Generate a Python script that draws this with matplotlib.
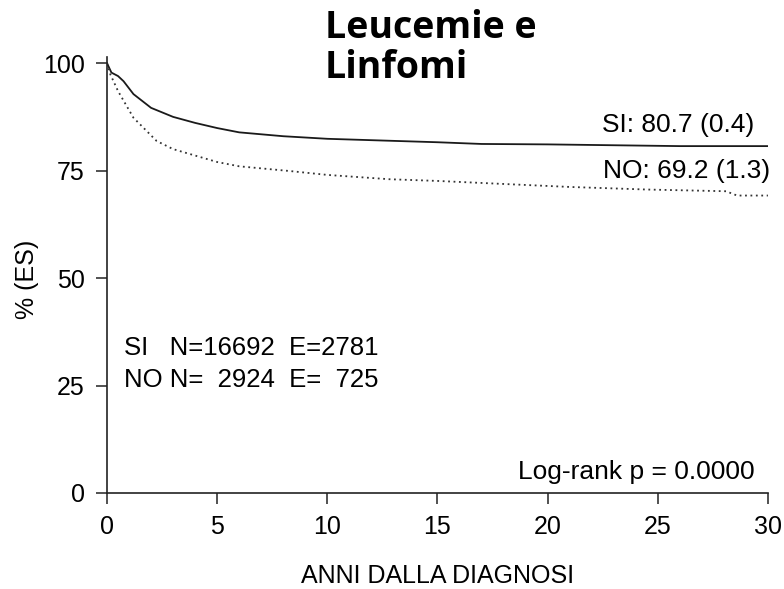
import matplotlib.pyplot as plt

# survival curves
t_si = [0, 0.2, 0.5, 0.75, 1.2, 2, 3, 4, 5, 6, 8, 10, 12.5, 15, 17, 20, 23, 26, 30]
si = [100, 97.8, 97.0, 95.8, 92.8, 89.6, 87.5, 86.1, 84.9, 83.9, 83.0, 82.4, 82.0, 81.6, 81.2, 81.1, 80.9, 80.7, 80.7]

t_no = [0, 0.15, 0.5, 1.2, 2.25, 3, 3.8, 5, 6, 8.3, 10, 12.8, 15, 18.4, 21, 24.5, 28.1, 28.6, 30]
no = [100, 97.4, 93.5, 87.3, 81.9, 80.0, 78.8, 77.0, 76.0, 74.9, 74.0, 73.0, 72.6, 71.8, 71.2, 70.6, 70.2, 69.2, 69.2]

x_ticks = [0, 5, 10, 15, 20, 25, 30]
y_ticks = [0, 25, 50, 75, 100]

plt.rcParams['font.family'] = ['Liberation Sans', 'DejaVu Sans']

fig = plt.figure(figsize=(7.84, 5.89), dpi=100)
ax = fig.add_axes([0.1365, 0.163, 0.843, 0.740])

ax.plot(t_si, si, color='#1a1a1a', lw=1.3)
ax.plot(t_no, no, color='#333333', lw=1.3, linestyle=(0, (1, 2)))

ax.set_xlim(0, 30)
ax.set_ylim(0, 101.4)
ax.set_xticks(x_ticks)
ax.set_yticks(y_ticks)
ax.tick_params(labelsize=18, length=8, width=1.2, color='#333333', pad=8)

for s in ['top', 'right']:
    ax.spines[s].set_visible(False)
for s in ['left', 'bottom']:
    ax.spines[s].set_linewidth(1.2)
    ax.spines[s].set_color('#222222')

ax.set_xlabel('ANNI DALLA DIAGNOSI', fontsize=18)
ax.xaxis.set_label_coords(0.5, -0.163)
ax.set_ylabel('% (ES)', fontsize=18)
ax.yaxis.set_label_coords(-0.103, 0.49)

ax.text(29.4, 85.5, 'SI: 80.7 (0.4)', fontsize=19, ha='right', va='center')
ax.text(30.1, 74.8, 'NO: 69.2 (1.3)', fontsize=19, ha='right', va='center')
ax.text(0.75, 33.7, 'SI   N=16692  E=2781', fontsize=18.5, ha='left', va='center')
ax.text(0.75, 26.4, 'NO N=  2924  E=  725', fontsize=18.5, ha='left', va='center')
ax.text(29.4, 3.3, 'Log-rank p = 0.0000', fontsize=19, ha='right', va='baseline')

# two-line title, placed line by line
fig.text(0.414, 0.935, 'Leucemie e', fontsize=27, fontweight='bold',
         family=['Open Sans', 'DejaVu Sans'], ha='left', va='baseline')
fig.text(0.414, 0.8675, 'Linfomi', fontsize=27, fontweight='bold',
         family=['Open Sans', 'DejaVu Sans'], ha='left', va='baseline')

fig.savefig('out.png', dpi=100)
